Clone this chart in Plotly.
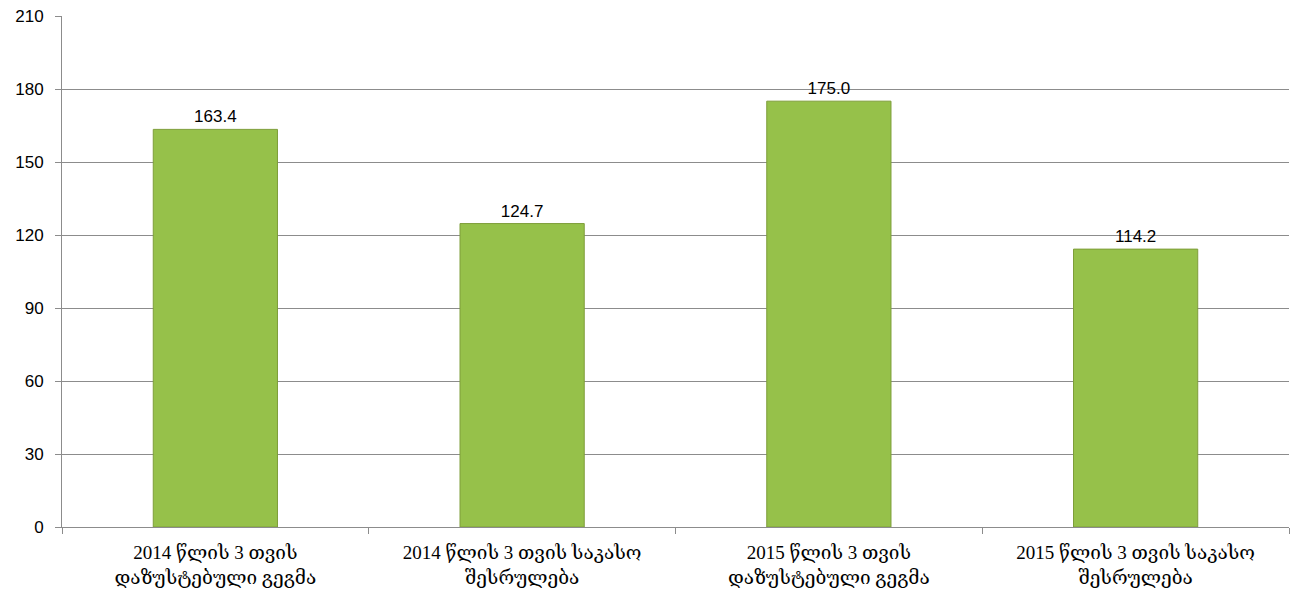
import plotly.graph_objects as go

categories = [
    "2014 წლის 3 თვის<br>დაზუსტებული გეგმა",
    "2014 წლის 3 თვის საკასო<br>შესრულება",
    "2015 წლის 3 თვის<br>დაზუსტებული გეგმა",
    "2015 წლის 3 თვის საკასო<br>შესრულება",
]
values = [163.4, 124.7, 175.0, 114.2]
labels = ["163.4", "124.7", "175.0", "114.2"]
y_ticks = [0, 30, 60, 90, 120, 150, 180, 210]

fig = go.Figure()
fig.add_trace(go.Bar(
    x=categories,
    y=values,
    text=labels,
    textposition="outside",
    textfont=dict(family="Liberation Sans, Arial, sans-serif", size=17, color="#000000"),
    cliponaxis=False,
    marker=dict(color="#96C14A", line=dict(color="#7E9E3A", width=1)),
    hoverinfo="skip",
))

fig.update_layout(
    width=1291,
    height=599,
    margin=dict(l=62, r=2, t=16, b=72),
    paper_bgcolor="#FFFFFF",
    plot_bgcolor="#FFFFFF",
    bargap=0.595,
    showlegend=False,
    xaxis=dict(
        type="category",
        tickson="boundaries",
        ticks="outside",
        ticklen=6,
        tickcolor="#8C8C8C",
        showline=True,
        linecolor="#8C8C8C",
        linewidth=1,
        showgrid=False,
        ticklabelstandoff=8,
        tickfont=dict(family="Liberation Serif, DejaVu Serif, serif", size=19, color="#000000"),
    ),
    yaxis=dict(
        range=[0, 210],
        tickvals=y_ticks,
        ticks="outside",
        ticklen=6,
        tickcolor="#8C8C8C",
        showline=True,
        linecolor="#8C8C8C",
        linewidth=1,
        showgrid=True,
        gridcolor="#8C8C8C",
        gridwidth=1,
        zeroline=False,
        ticklabelstandoff=8,
        tickfont=dict(family="Liberation Sans, Arial, sans-serif", size=17, color="#000000"),
    ),
)

fig.write_html("out.html")
